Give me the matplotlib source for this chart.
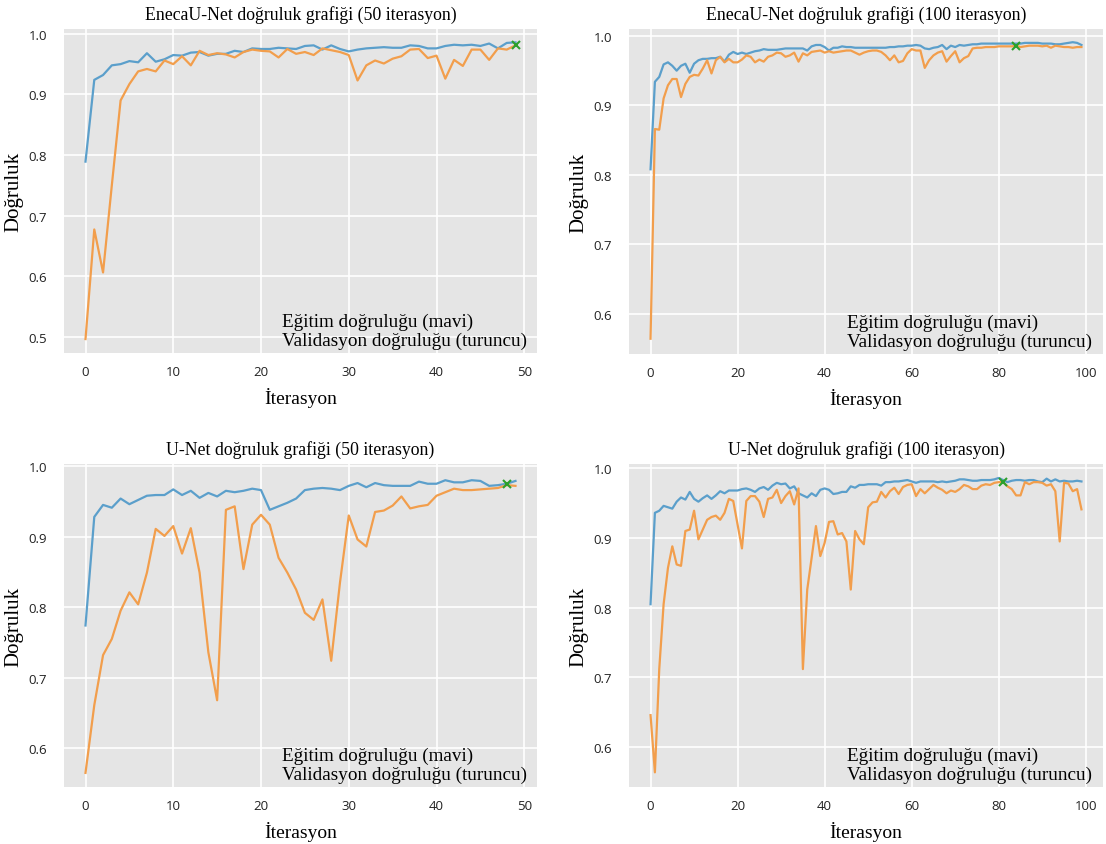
import matplotlib
matplotlib.use("Agg")
import matplotlib.pyplot as plt
import numpy as np

# EnecaU-Net, 50 iterasyon
enc50_train = [0.789, 0.924, 0.932, 0.948, 0.950, 0.955, 0.953, 0.968, 0.954, 0.958,
               0.965, 0.964, 0.969, 0.970, 0.964, 0.967, 0.967, 0.972, 0.970, 0.976,
               0.975, 0.975, 0.977, 0.976, 0.975, 0.980, 0.981, 0.974, 0.981, 0.975,
               0.971, 0.974, 0.976, 0.977, 0.978, 0.977, 0.977, 0.981, 0.980, 0.976,
               0.976, 0.980, 0.982, 0.981, 0.982, 0.980, 0.984, 0.976, 0.985, 0.986]
enc50_val = [0.496, 0.677, 0.606, 0.750, 0.890, 0.917, 0.938, 0.942, 0.938, 0.956,
             0.950, 0.963, 0.948, 0.972, 0.965, 0.968, 0.966, 0.961, 0.970, 0.974,
             0.972, 0.971, 0.961, 0.975, 0.967, 0.970, 0.965, 0.976, 0.973, 0.970,
             0.965, 0.923, 0.948, 0.956, 0.951, 0.959, 0.963, 0.974, 0.975, 0.960,
             0.964, 0.926, 0.957, 0.947, 0.974, 0.974, 0.957, 0.976, 0.974, 0.981]

# EnecaU-Net, 100 iterasyon
enc100_train = [0.808, 0.934, 0.941, 0.959, 0.962, 0.957, 0.950, 0.957, 0.960, 0.947,
                0.960, 0.965, 0.967, 0.967, 0.968, 0.968, 0.970, 0.963, 0.973, 0.977,
                0.974, 0.976, 0.974, 0.976, 0.978, 0.979, 0.981, 0.980, 0.980, 0.980,
                0.981, 0.982, 0.982, 0.982, 0.982, 0.982, 0.979, 0.985, 0.987, 0.987,
                0.984, 0.979, 0.983, 0.983, 0.985, 0.984, 0.984, 0.983, 0.983, 0.983,
                0.983, 0.983, 0.983, 0.983, 0.983, 0.984, 0.984, 0.985, 0.985, 0.986,
                0.986, 0.987, 0.986, 0.982, 0.981, 0.983, 0.984, 0.987, 0.981, 0.986,
                0.984, 0.987, 0.986, 0.987, 0.988, 0.988, 0.989, 0.989, 0.989, 0.989,
                0.989, 0.989, 0.989, 0.989, 0.989, 0.989, 0.990, 0.990, 0.990, 0.990,
                0.989, 0.989, 0.989, 0.988, 0.988, 0.989, 0.990, 0.991, 0.990, 0.987]
enc100_val = [0.564, 0.866, 0.865, 0.910, 0.929, 0.938, 0.938, 0.912, 0.931, 0.941,
              0.944, 0.943, 0.953, 0.965, 0.946, 0.965, 0.970, 0.962, 0.967, 0.962,
              0.962, 0.966, 0.972, 0.970, 0.962, 0.966, 0.963, 0.970, 0.972, 0.976,
              0.975, 0.970, 0.972, 0.976, 0.963, 0.975, 0.972, 0.977, 0.978, 0.979,
              0.976, 0.978, 0.976, 0.977, 0.978, 0.979, 0.979, 0.976, 0.973, 0.976,
              0.978, 0.979, 0.979, 0.977, 0.972, 0.965, 0.972, 0.962, 0.964, 0.975,
              0.981, 0.979, 0.979, 0.954, 0.965, 0.972, 0.976, 0.978, 0.963, 0.971,
              0.978, 0.962, 0.968, 0.971, 0.982, 0.983, 0.983, 0.984, 0.984, 0.984,
              0.985, 0.985, 0.985, 0.985, 0.986, 0.984, 0.985, 0.986, 0.986, 0.986,
              0.985, 0.986, 0.983, 0.986, 0.985, 0.984, 0.984, 0.983, 0.984, 0.984]

# U-Net, 50 iterasyon
unet50_train = [0.774, 0.928, 0.945, 0.941, 0.954, 0.946, 0.952, 0.958, 0.959, 0.959,
                0.967, 0.959, 0.965, 0.955, 0.962, 0.957, 0.965, 0.963, 0.965, 0.968,
                0.966, 0.938, 0.943, 0.948, 0.954, 0.966, 0.968, 0.969, 0.968, 0.966,
                0.972, 0.976, 0.970, 0.976, 0.973, 0.972, 0.972, 0.972, 0.978, 0.975,
                0.975, 0.980, 0.977, 0.977, 0.980, 0.979, 0.972, 0.973, 0.975, 0.979]
unet50_val = [0.565, 0.661, 0.732, 0.755, 0.795, 0.821, 0.804, 0.849, 0.911, 0.901,
              0.915, 0.876, 0.912, 0.849, 0.736, 0.668, 0.938, 0.943, 0.854, 0.917,
              0.931, 0.917, 0.870, 0.849, 0.825, 0.792, 0.782, 0.811, 0.724, 0.835,
              0.930, 0.896, 0.886, 0.935, 0.937, 0.944, 0.957, 0.940, 0.943, 0.945,
              0.958, 0.963, 0.968, 0.966, 0.966, 0.967, 0.968, 0.969, 0.973, 0.972]

# U-Net, 100 iterasyon
unet100_train = [0.805, 0.936, 0.939, 0.946, 0.944, 0.942, 0.952, 0.958, 0.955, 0.966,
                 0.956, 0.952, 0.957, 0.961, 0.956, 0.961, 0.967, 0.964, 0.968, 0.968,
                 0.968, 0.970, 0.971, 0.969, 0.966, 0.971, 0.973, 0.969, 0.975, 0.979,
                 0.977, 0.978, 0.971, 0.974, 0.964, 0.961, 0.958, 0.964, 0.960, 0.969,
                 0.971, 0.969, 0.963, 0.964, 0.966, 0.966, 0.974, 0.972, 0.976, 0.976,
                 0.977, 0.977, 0.977, 0.975, 0.980, 0.980, 0.981, 0.981, 0.982, 0.983,
                 0.981, 0.979, 0.981, 0.981, 0.981, 0.981, 0.980, 0.981, 0.980, 0.981,
                 0.982, 0.984, 0.984, 0.983, 0.982, 0.982, 0.983, 0.983, 0.983, 0.984,
                 0.986, 0.983, 0.980, 0.982, 0.983, 0.983, 0.982, 0.983, 0.983, 0.981,
                 0.980, 0.985, 0.981, 0.984, 0.981, 0.982, 0.981, 0.981, 0.982, 0.981]
unet100_val = [0.646, 0.564, 0.712, 0.805, 0.857, 0.888, 0.862, 0.860, 0.910, 0.912,
               0.939, 0.898, 0.912, 0.926, 0.930, 0.932, 0.926, 0.936, 0.956, 0.953,
               0.919, 0.885, 0.953, 0.960, 0.960, 0.952, 0.930, 0.956, 0.958, 0.969,
               0.950, 0.960, 0.967, 0.948, 0.971, 0.712, 0.826, 0.871, 0.917, 0.874,
               0.893, 0.923, 0.924, 0.905, 0.907, 0.895, 0.826, 0.910, 0.898, 0.891,
               0.944, 0.951, 0.952, 0.966, 0.958, 0.967, 0.972, 0.963, 0.973, 0.976,
               0.977, 0.960, 0.970, 0.964, 0.970, 0.976, 0.972, 0.969, 0.964, 0.968,
               0.966, 0.970, 0.976, 0.974, 0.970, 0.970, 0.975, 0.977, 0.976, 0.979,
               0.980, 0.980, 0.974, 0.970, 0.961, 0.961, 0.980, 0.977, 0.980, 0.980,
               0.979, 0.975, 0.977, 0.967, 0.895, 0.979, 0.978, 0.967, 0.970, 0.941]

# en iyi nokta (yesil x)
best_idx = [49, 84, 48, 81]
best_val = [0.981, 0.986, 0.974, 0.980]

titles = ["EnecaU-Net doğruluk grafiği (50 iterasyon)",
          "EnecaU-Net doğruluk grafiği (100 iterasyon)",
          "U-Net doğruluk grafiği (50 iterasyon)",
          "U-Net doğruluk grafiği (100 iterasyon)"]
series = [(enc50_train, enc50_val), (enc100_train, enc100_val),
          (unet50_train, unet50_val), (unet100_train, unet100_val)]
ylims = [(0.473, 1.008), (0.542, 1.010), (0.545, 1.003), (0.543, 1.006)]
yticks = [[0.5, 0.6, 0.7, 0.8, 0.9, 1.0], [0.6, 0.7, 0.8, 0.9, 1.0],
          [0.6, 0.7, 0.8, 0.9, 1.0], [0.6, 0.7, 0.8, 0.9, 1.0]]

BLUE = "#5b9fcb"
ORANGE = "#f29e4c"
SERIF = "Liberation Serif"

fig = plt.figure(figsize=(11.06, 8.45), dpi=100)
fig.patch.set_facecolor("white")

W, H = 1106, 845
boxes = [(64, 30, 537, 354), (629, 30, 1103, 355),
         (64, 465, 537, 788), (629, 465, 1103, 788)]

for k, (x0, y0, x1, y1) in enumerate(boxes):
    ax = fig.add_axes([x0 / W, 1 - y1 / H, (x1 - x0) / W, (y1 - y0) / H])
    ax.set_facecolor("#e5e5e5")
    for s in ax.spines.values():
        s.set_visible(False)
    ax.grid(True, color="white", linewidth=1.2)
    ax.set_axisbelow(True)

    train, val = series[k]
    it = np.arange(len(train))
    ax.plot(it, train, color=BLUE, linewidth=1.6)
    ax.plot(it, val, color=ORANGE, linewidth=1.6)
    ax.plot(best_idx[k], best_val[k], marker="x", color="#2ca02c",
            markersize=6, markeredgewidth=1.5, linestyle="none")

    n = len(train)
    ax.set_xlim(-0.05 * (n - 1), (n - 1) * 1.05)
    ax.set_ylim(*ylims[k])
    ax.set_yticks(yticks[k])
    ax.set_yticklabels([f"{v:.1f}" for v in yticks[k]])
    if n == 50:
        ax.set_xticks([0, 10, 20, 30, 40, 50])
    else:
        ax.set_xticks([0, 20, 40, 60, 80, 100])
    ax.tick_params(length=0, labelsize=9.5, labelcolor="#222222", pad=12)
    ax.tick_params(axis="x", pad=9)
    for lab in ax.get_xticklabels() + ax.get_yticklabels():
        lab.set_fontfamily("Open Sans")

    ax.set_title(titles[k], fontfamily=SERIF, fontsize=12.8, pad=7)
    ax.set_xlabel("İterasyon", fontfamily=SERIF, fontsize=14, labelpad=6)
    ax.set_ylabel("Doğruluk", fontfamily=SERIF, fontsize=15, labelpad=4)

    ax.text(0.46, 0.012, "Eğitim doğruluğu (mavi)\nValidasyon doğruluğu (turuncu)",
            transform=ax.transAxes, ha="left", va="bottom", fontfamily=SERIF,
            fontsize=13.8, linespacing=1.1, color="black")

fig.savefig("out.png", dpi=100, facecolor="white")
